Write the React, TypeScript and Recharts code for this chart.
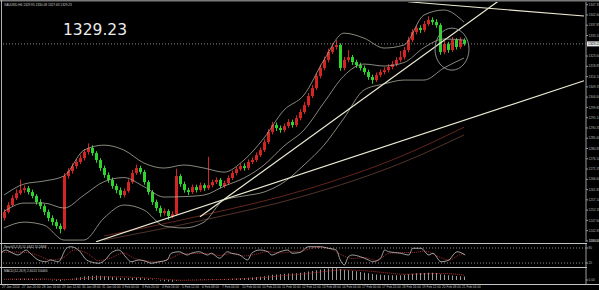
import React from 'react';
import { ComposedChart, Bar, Line, XAxis, YAxis, ReferenceLine, ReferenceDot } from 'recharts';

// ---- H4 candles (XAUUSD) ----
const opens = [1248.7,1251.5,1254.7,1257.9,1260.2,1261.6,1262.5,1260.7,1258.9,1256.1, 1254.2,1251.5,1248.7,1246.8,1245.0,1243.6,1268.1,1270.4,1272.7,1274.6, 1276.4,1279.2,1281.1,1278.7,1275.5,1271.8,1268.6,1266.3,1263.5,1261.6, 1259.3,1261.2,1265.3,1269.5,1271.8,1270.0,1265.3,1260.7,1256.1,1253.3, 1251.0,1251.9,1249.6,1250.5,1268.1,1264.4,1261.6,1260.7,1263.0,1261.6, 1263.9,1262.5,1263.9,1265.3,1266.3,1263.5,1264.9,1267.2,1269.5,1271.3, 1272.7,1271.8,1274.6,1275.5,1277.8,1280.1,1283.8,1288.5,1291.7,1290.3, 1289.4,1291.2,1293.1,1291.7,1294.9,1297.7,1300.9,1305.1,1308.8,1314.4, 1318.1,1321.8,1325.5,1327.8,1328.7,1318.1,1321.8,1323.1,1320.8,1319.4, 1318.1,1316.2,1313.9,1312.5,1314.8,1316.2,1317.1,1318.5,1319.9,1321.8, 1323.1,1326.4,1331.0,1334.7,1336.6,1335.6,1338.4,1340.3,1339.3,1337.9, 1325.5,1329.2,1326.4,1331.0,1327.8,1331.0];
const closes = [1251.5,1254.7,1257.9,1260.2,1261.6,1262.5,1260.7,1258.9,1256.1,1254.2, 1251.5,1248.7,1246.8,1245.0,1243.6,1268.1,1270.4,1272.7,1274.6,1276.4, 1279.2,1281.1,1278.7,1275.5,1271.8,1268.6,1266.3,1263.5,1261.6,1259.3, 1261.2,1265.3,1269.5,1271.8,1270.0,1265.3,1260.7,1256.1,1253.3,1251.0, 1251.9,1249.6,1250.5,1268.1,1264.4,1261.6,1260.7,1263.0,1261.6,1263.9, 1262.5,1263.9,1265.3,1266.3,1263.5,1264.9,1267.2,1269.5,1271.3,1272.7, 1271.8,1274.6,1275.5,1277.8,1280.1,1283.8,1288.5,1291.7,1290.3,1289.4, 1291.2,1293.1,1291.7,1294.9,1297.7,1300.9,1305.1,1308.8,1314.4,1318.1, 1321.8,1325.5,1327.8,1328.7,1318.1,1321.8,1323.1,1320.8,1319.4,1318.1, 1316.2,1313.9,1312.5,1314.8,1316.2,1317.1,1318.5,1319.9,1321.8,1323.1, 1326.4,1331.0,1334.7,1336.6,1335.6,1338.4,1340.3,1339.3,1337.9,1325.5, 1329.2,1326.4,1331.0,1327.8,1331.0,1329.23];
const highs = [1252.8,1256.0,1259.2,1262.0,1266.5,1263.8,1263.5,1261.8,1259.7,1257.4, 1255.1,1252.6,1249.9,1248.1,1246.2,1269.5,1271.8,1274.0,1276.1,1278.0, 1280.6,1283.2,1282.3,1279.6,1276.4,1272.9,1269.8,1267.4,1264.6,1262.8, 1262.4,1266.6,1270.9,1273.4,1272.9,1271.0,1266.2,1261.6,1257.2,1254.4, 1253.1,1252.7,1251.8,1271.5,1269.0,1265.5,1262.7,1264.2,1264.1,1265.1, 1264.8,1277.0,1266.4,1267.5,1267.2,1266.0,1268.4,1270.7,1272.5,1273.9, 1274.0,1275.8,1276.7,1279.0,1281.3,1285.1,1289.8,1293.2,1292.9,1291.5, 1292.4,1294.4,1294.2,1296.2,1299.0,1302.3,1306.5,1310.2,1315.8,1319.6, 1323.3,1327.0,1329.6,1331.0,1329.5,1323.2,1326.4,1324.1,1321.9,1320.5, 1319.2,1317.3,1315.0,1316.0,1317.4,1318.5,1319.8,1321.2,1323.1,1326.0, 1327.8,1332.5,1336.1,1338.0,1337.8,1339.8,1342.0,1341.5,1340.6,1338.8, 1330.6,1330.2,1332.4,1331.9,1332.3,1331.8];
const lows = [1247.5,1250.8,1253.9,1257.0,1259.4,1260.3,1259.6,1257.8,1254.9,1252.8, 1250.0,1247.2,1245.3,1243.7,1241.6,1242.9,1266.9,1269.2,1271.5,1273.6, 1275.3,1278.0,1277.5,1274.2,1270.5,1267.3,1265.0,1262.2,1260.1,1257.9, 1258.2,1260.4,1264.5,1268.6,1268.9,1264.1,1259.5,1254.8,1252.0,1249.3, 1249.8,1247.9,1248.6,1249.9,1263.2,1260.4,1259.3,1259.8,1260.5,1260.8, 1261.3,1261.7,1262.9,1264.4,1262.4,1262.6,1264.0,1266.3,1268.4,1270.5, 1270.6,1270.9,1273.6,1274.7,1276.9,1279.2,1282.9,1287.4,1289.0,1288.1, 1288.3,1290.2,1290.5,1290.8,1293.9,1296.8,1300.0,1304.2,1307.9,1313.3, 1317.0,1320.7,1324.5,1326.6,1316.8,1317.0,1320.6,1319.5,1318.2,1316.9, 1315.0,1312.6,1310.8,1311.6,1313.8,1315.1,1316.0,1317.4,1318.8,1320.7, 1322.0,1325.3,1330.0,1333.6,1334.3,1334.6,1337.4,1338.0,1336.7,1324.2, 1324.4,1325.1,1325.5,1326.6,1326.9,1328.4];

// ---- Bollinger bands (read every 5 bars) ----
const bandIdx = [0,5,10,15,20,25,30,35,40,45,50,55,60,65,70,75,80,85,90,95,100,105,110,115];
const bandUpper = [1259.3,1264.4,1265.8,1268.1,1280.1,1282.4,1280.1,1274.1,1271.8,1273.2,1271.8,1269.9,1275.5,1285.7,1298.6,1305.6,1321.8,1334.2,1331.9,1327.3,1328.7,1342.6,1344.9,1339.3];
const bandMid = [1251.7,1255.6,1255.6,1253.3,1259.3,1265.5,1267.4,1263.2,1258.4,1258.6,1259.3,1263.4,1267.2,1273.2,1282.0,1289.4,1302.1,1314.5,1319.9,1319.0,1320.6,1327.5,1331.5,1331.0];
const bandLower = [1244.1,1246.8,1245.4,1238.5,1238.5,1248.7,1254.7,1252.4,1245.0,1244.1,1246.8,1257.0,1258.9,1260.7,1265.3,1273.2,1282.4,1294.9,1307.9,1310.7,1312.5,1312.5,1318.1,1322.7];

// ---- long moving averages ----
const maIdx = [25,50,75,100,115];
const maSlow = [1240.4,1250.1,1261.6,1277.8,1290.7];
const maSlower = [1238.5,1247.8,1258.9,1274.6,1287.1];

// ---- Stochastic (5,3,3) ----
const stochKIdx = [0,1,2,4,6,7,9,11,12,14,16,17,19,21,22,24,26,27,29,31,32,34,36,37,39,41,42,44,46,47,49,51,52,54,56,57,59,61,62,64,66,67,69,71,72,74,76,79,81,83,84,85,86,87,89,91,92,94,95,96,99,101,102,104,106,107,109,111,112,113,115];
const stochKVal = [65,72,65,52,72,59,32,25,32,25,79,85,72,32,25,19,39,59,72,39,25,32,25,19,25,32,59,65,52,59,65,52,59,39,65,59,52,32,59,72,65,52,65,72,59,62,85,85,79,72,32,12,45,52,45,32,25,39,72,65,59,52,79,79,52,59,25,32,52,65,52];
const stochDIdx = [0,3,6,9,12,15,18,21,24,27,30,33,36,39,42,45,48,51,54,57,60,63,66,69,72,75,78,81,84,87,90,93,96,99,102,105,108,111,114,115];
const stochDVal = [62,64,62,50,32,40,72,60,30,40,60,38,28,24,40,58,58,58,50,58,48,55,66,60,65,70,82,80,55,38,42,30,58,62,62,68,48,32,55,56];

// ---- MACD (12,26,9) ----
const macdHist = [0.2,0.4,0.6,0.8,0.9,1.0,1.0,0.9,0.7,0.5, 0.3,0.0,-0.3,-0.6,-0.9,-0.2,0.4,1.0,1.6,2.1, 2.6,3.0,3.2,3.3,3.2,3.0,2.7,2.3,1.9,1.5, 1.3,1.3,1.5,1.6,1.5,1.2,0.8,0.3,-0.2,-0.6, -0.9,-1.2,-1.4,-0.6,-0.2,0.0,0.1,0.2,0.2,0.3, 0.3,0.4,0.5,0.6,0.6,0.7,0.8,1.0,1.2,1.4, 1.5,1.7,1.9,2.2,2.5,2.9,3.4,3.9,4.2,4.4, 4.6,4.8,4.9,5.1,5.4,5.8,6.3,6.8,7.4,7.9, 8.3,8.6,8.8,8.9,8.2,7.7,7.3,6.9,6.5,6.0, 5.5,5.0,4.5,4.2,3.9,3.7,3.6,3.5,3.5,3.6, 3.9,4.3,4.7,5.0,5.2,5.3,5.4,5.4,5.2,4.4, 3.9,3.5,3.3,3.0,2.8,2.6];
const macdSigIdx = [0,5,10,15,20,25,30,35,40,45,50,55,60,65,70,75,80,85,90,95,100,105,110,115];
const macdSig = [0.5,0.7,0.7,0.3,1.2,2.4,2.3,1.6,0.6,-0.2,0.1,0.5,1.0,1.9,3.3,4.6,6.3,7.6,7.0,5.6,4.3,4.6,4.9,3.6];

// ---- time axis ----
const timeIdx = [0,5,10,15,20,25,30,35,40,45,50,55,60,65,70,75,80,85,90,95,100,105,110,115];
const timeLabels = ['27 Jan 2014','27 Jan 20:00','28 Jan 16:00','29 Jan 12:00','30 Jan 08:00','31 Jan 04:00','3 Feb 00:00','3 Feb 20:00','4 Feb 16:00','5 Feb 12:00','6 Feb 08:00','7 Feb 04:00','10 Feb 00:00','10 Feb 20:00','11 Feb 16:00','12 Feb 12:00','13 Feb 08:00','14 Feb 04:00','17 Feb 00:00','17 Feb 20:00','18 Feb 16:00','19 Feb 12:00','20 Feb 08:00','21 Feb 04:00'];

const priceTicks = [1347.35,1342.60,1337.85,1333.10,1323.60,1318.85,1314.10,1309.35,1304.60,1299.85,1295.10,1290.35,1285.60,1280.85,1276.10,1271.35,1266.60,1261.85,1257.10,1252.35,1247.60,1242.85,1238.10];
const LAST = 1329.23;
const SLOTS = 146;
const N = closes.length;

const pick = (idx: number[], vals: number[], i: number) => {
  const k = idx.indexOf(i);
  return k >= 0 ? vals[k] : null;
};

const mainData = Array.from({ length: SLOTS }, (_, i) => {
  const has = i < N;
  return {
    i,
    range: has ? [lows[i], highs[i]] : null,
    o: has ? opens[i] : null,
    h: has ? highs[i] : null,
    l: has ? lows[i] : null,
    c: has ? closes[i] : null,
    up: pick(bandIdx, bandUpper, i),
    mid: pick(bandIdx, bandMid, i),
    lo: pick(bandIdx, bandLower, i),
    ma1: pick(maIdx, maSlow, i),
    ma2: pick(maIdx, maSlower, i),
  };
});

const stochData = Array.from({ length: SLOTS }, (_, i) => ({
  i,
  k: pick(stochKIdx, stochKVal, i),
  d: pick(stochDIdx, stochDVal, i),
}));

const macdData = Array.from({ length: SLOTS }, (_, i) => ({
  i,
  h: i < N ? macdHist[i] : null,
  s: pick(macdSigIdx, macdSig, i),
}));

const UP = '#d42424';
const DOWN = '#2fd42f';
const BAND = '#a8a89a';
const TREND = '#ecead2';
const AXIS_TXT = '#bdbdbd';

const Candle = (props: any) => {
  const { x, width, payload } = props;
  let { y, height } = props;
  if (!payload || payload.o == null) return null;
  if (height < 0) { y = y + height; height = -height; }
  const { o, h, l, c } = payload;
  const span = h - l || 1;
  const toY = (v: number) => y + ((h - v) / span) * height;
  const color = c >= o ? UP : DOWN;
  const top = toY(Math.max(o, c));
  const bot = toY(Math.min(o, c));
  const cx = Math.floor(x + width / 2) + 0.5;
  return (
    <g>
      <line x1={cx} x2={cx} y1={y} y2={y + height} stroke={color} strokeWidth={1} />
      <rect x={Math.round(x)} y={top} width={width} height={Math.max(1, bot - top)} fill={color} />
    </g>
  );
};

const PriceBox = (props: any) => {
  const vb = props.viewBox || {};
  const x = (vb.x || 0) + (vb.width || 0) + 1;
  const y = vb.y || 0;
  return (
    <g>
      <rect x={x} y={y - 2.5} width={13} height={5} fill="#e6e6e6" />
      <text x={x + 1} y={y + 1.3} fontSize={3.4} fill="#000" fontFamily="Liberation Sans, Arial">{LAST.toFixed(2)}</text>
    </g>
  );
};

const TimeTick = (props: any) => {
  const { x, payload } = props;
  const k = timeIdx.indexOf(payload.value);
  return (
    <text x={x - 2} y={287.6 - 268} fontSize={3.2} fill={AXIS_TXT} textAnchor="start" fontFamily="Liberation Sans, Arial">
      {k >= 0 ? timeLabels[k] : ''}
    </text>
  );
};

const tickStyle = { fontSize: 3.2, fill: AXIS_TXT, fontFamily: 'Liberation Sans, Arial' };

export default function App() {
  return (
    <div style={{ position: 'absolute', left: 0, top: 0, width: 599, height: 290, background: '#000', overflow: 'hidden' }}>
      <div style={{ position: 'absolute', left: 0, top: 0 }}>
        <ComposedChart width={599} height={243} data={mainData} margin={{ top: 2, right: 0, bottom: 1, left: 2 }} barCategoryGap={0}>
          <XAxis dataKey="i" type="category" hide />
          <YAxis
            orientation="right"
            width={13}
            type="number"
            domain={[1237.6, 1348.6]}
            allowDataOverflow
            ticks={priceTicks}
            tickFormatter={(v: number) => v.toFixed(2)}
            tick={tickStyle}
            tickSize={2}
            tickMargin={0.5}
            stroke="#9a9a9a"
          />
          <ReferenceLine y={LAST} stroke="#8a8a8a" strokeDasharray="1 2" label={<PriceBox />} />
          <Line dataKey="ma1" type="monotone" stroke="#6e2a22" strokeWidth={0.9} dot={false} activeDot={false} connectNulls isAnimationActive={false} />
          <Line dataKey="ma2" type="monotone" stroke="#5a3a30" strokeWidth={0.9} dot={false} activeDot={false} connectNulls isAnimationActive={false} />
          <Line dataKey="up" type="monotone" stroke={BAND} strokeWidth={0.8} dot={false} activeDot={false} connectNulls isAnimationActive={false} />
          <Line dataKey="mid" type="monotone" stroke={BAND} strokeWidth={0.8} dot={false} activeDot={false} connectNulls isAnimationActive={false} />
          <Line dataKey="lo" type="monotone" stroke={BAND} strokeWidth={0.8} dot={false} activeDot={false} connectNulls isAnimationActive={false} />
          <Bar dataKey="range" barSize={3} shape={<Candle />} isAnimationActive={false} />
          <ReferenceLine segment={[{ x: 23, y: 1237.7 }, { x: 145, y: 1312.2 }]} stroke={TREND} strokeWidth={1.2} ifOverflow="hidden" />
          <ReferenceLine segment={[{ x: 49, y: 1249.3 }, { x: 125, y: 1350.9 }]} stroke={TREND} strokeWidth={1.2} ifOverflow="hidden" />
          <ReferenceLine segment={[{ x: 101, y: 1348.7 }, { x: 145, y: 1342.1 }]} stroke={TREND} strokeWidth={1.1} ifOverflow="hidden" />
          <ReferenceDot
            x={112}
            y={1326.8}
            r={19}
            ifOverflow="visible"
            shape={(p: any) => <ellipse cx={p.cx} cy={p.cy} rx={17} ry={21} fill="none" stroke="#9a9a9a" strokeWidth={0.9} />}
          />
        </ComposedChart>
      </div>

      <div style={{ position: 'absolute', left: 0, top: 243 }}>
        <ComposedChart width={599} height={25} data={stochData} margin={{ top: 0, right: 0, bottom: 0, left: 2 }}>
          <XAxis dataKey="i" type="category" hide />
          <YAxis orientation="right" width={13} type="number" domain={[0, 100]} allowDataOverflow ticks={[80, 20]} tick={tickStyle} tickSize={2} tickMargin={0.5} stroke="#9a9a9a" />
          <ReferenceLine y={80} stroke="#8a8a8a" strokeDasharray="1 2" />
          <ReferenceLine y={20} stroke="#8a8a8a" strokeDasharray="1 2" />
          <Line dataKey="d" type="monotone" stroke="#b83030" strokeWidth={0.9} strokeDasharray="1 1" dot={false} activeDot={false} connectNulls isAnimationActive={false} />
          <Line dataKey="k" type="monotone" stroke="#c8c8c8" strokeWidth={0.8} dot={false} activeDot={false} connectNulls isAnimationActive={false} />
        </ComposedChart>
      </div>

      <div style={{ position: 'absolute', left: 0, top: 268 }}>
        <ComposedChart width={599} height={22} data={macdData} margin={{ top: 0, right: 0, bottom: 0, left: 2 }} barCategoryGap={0}>
          <XAxis dataKey="i" type="category" height={6} ticks={timeIdx} interval={0} tick={<TimeTick />} tickSize={0} tickMargin={0} axisLine={false} tickLine={false} />
          <YAxis orientation="right" width={13} type="number" domain={[-3, 9]} allowDataOverflow ticks={[8, 0]} tickFormatter={(v: number) => (v === 0 ? '0.00' : '8.1095')} tick={tickStyle} tickSize={2} tickMargin={0.5} stroke="#9a9a9a" />
          <Bar dataKey="h" barSize={1} fill="#9c9c9c" isAnimationActive={false} />
          <Line dataKey="s" type="monotone" stroke="#c03030" strokeWidth={0.9} strokeDasharray="1 1" dot={false} activeDot={false} connectNulls isAnimationActive={false} />
        </ComposedChart>
      </div>

      <svg width={599} height={290} style={{ position: 'absolute', left: 0, top: 0, pointerEvents: 'none' }}>
        <line x1={0} x2={599} y1={0.75} y2={0.75} stroke="#7a7a7a" strokeWidth={1.5} />
        <line x1={1.5} x2={1.5} y1={0} y2={285} stroke="#b0b0b0" strokeWidth={1} />
        <line x1={0} x2={587} y1={243.5} y2={243.5} stroke="#c4c4c4" strokeWidth={1.2} />
        <line x1={0} x2={587} y1={267.5} y2={267.5} stroke="#c4c4c4" strokeWidth={1.2} />
        <line x1={0} x2={599} y1={284.5} y2={284.5} stroke="#c4c4c4" strokeWidth={1.2} />
        <text x={4} y={6} fontSize={3.2} fill="#cfcfcf" fontFamily="Liberation Sans, Arial">XAUUSD,H4  1329.95 1330.08 1327.63 1329.23</text>
        <text x={4} y={248} fontSize={3.2} fill="#cfcfcf" fontFamily="Liberation Sans, Arial">Stoch(5,3,3) 51.4442 55.5868</text>
        <text x={4} y={272} fontSize={3.2} fill="#cfcfcf" fontFamily="Liberation Sans, Arial">MACD(12,26,9) 2.6013 3.6466</text>
        <text x={589} y={242.2} fontSize={3.2} fill={AXIS_TXT} fontFamily="Liberation Sans, Arial">100.00</text>
        <text x={63} y={35} fontSize={15.5} fill="#ececec" fontFamily="DejaVu Sans">1329.23</text>
      </svg>
    </div>
  );
}
